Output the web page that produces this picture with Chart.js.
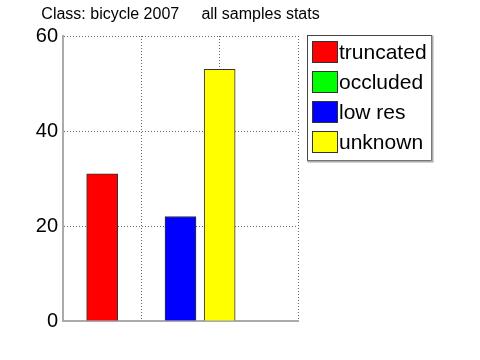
<!DOCTYPE html>
<html>
<head>
<meta charset="utf-8">
<script src="https://cdn.jsdelivr.net/npm/chart.js@4"></script>
<style>
  html, body { margin: 0; padding: 0; background: #fff; }
  #wrap { width: 480px; height: 360px; }
</style>
</head>
<body>
<div id="wrap"><canvas id="chart" width="480" height="360"></canvas></div>
<script>
// data
var categories = ['truncated', 'occluded', 'low res', 'unknown'];
var counts = [31, 0, 22, 53];
var barPositions = [0.5, 1, 1.5, 2];
var colors = ['#ff0000', '#00ff00', '#0000ff', '#ffff00'];
var xTicks = [0, 1, 2, 3];
var yTicks = [0, 20, 40, 60];
var titleText = 'Class: bicycle 2007     all samples stats';

var FONT = '"Liberation Sans", Arial, Helvetica, sans-serif';

var datasets = [];
for (var i = 0; i < categories.length; i++) {
    datasets.push({
        label: categories[i],
        data: [{x: barPositions[i], y: counts[i]}],
        backgroundColor: colors[i],
        borderColor: '#333333',
        borderWidth: 1,
        barThickness: 31,
        grouped: false
    });
}

// title + boxed legend, MATLAB style
var decorations = {
    id: 'decorations',
    afterDraw: function(chart) {
        var ctx = chart.ctx;
        var area = chart.chartArea;
        ctx.save();
        ctx.fillStyle = '#000';
        ctx.font = '16px ' + FONT;
        ctx.textAlign = 'center';
        ctx.textBaseline = 'alphabetic';
        ctx.fillText(titleText, (area.left + area.right) / 2, 19);

        // legend box
        var bx = 307.5, by = 35.5, bw = 124, bh = 125;
        ctx.fillStyle = '#fff';
        ctx.fillRect(bx, by, bw, bh);
        ctx.strokeStyle = '#444';
        ctx.lineWidth = 1;
        ctx.strokeRect(bx, by, bw, bh);
        ctx.strokeStyle = '#aaa';
        ctx.lineWidth = 2;
        ctx.beginPath();
        ctx.moveTo(bx, by + bh + 1);
        ctx.lineTo(bx + bw + 1, by + bh + 1);
        ctx.lineTo(bx + bw + 1, by);
        ctx.stroke();

        ctx.font = '21px ' + FONT;
        ctx.textAlign = 'left';
        ctx.textBaseline = 'middle';
        chart.data.datasets.forEach(function(ds, k) {
            var top = 41 + k * 30;
            ctx.fillStyle = ds.backgroundColor;
            ctx.fillRect(312, top, 25, 21);
            ctx.strokeStyle = '#333';
            ctx.lineWidth = 1;
            ctx.strokeRect(312.5, top + 0.5, 25, 21);
            ctx.fillStyle = '#000';
            ctx.fillText(ds.label, 339, top + 12);
        });
        ctx.restore();
    }
};

function gridColor(c) {
    return c.tick && c.tick.value === 0 ? 'rgba(0,0,0,0)' : '#666';
}

function fixedTicks(values) {
    return function(scale) {
        scale.ticks = values.map(function(v) { return {value: v}; });
    };
}

var chart = new Chart(document.getElementById('chart').getContext('2d'), {
    type: 'bar',
    data: { datasets: datasets },
    options: {
        responsive: false,
        animation: false,
        layout: { padding: { left: 0, top: 36, right: 182, bottom: 39 } },
        plugins: {
            legend: { display: false },
            title: { display: false },
            tooltip: { enabled: false }
        },
        scales: {
            x: {
                type: 'linear',
                min: 0,
                max: 3,
                offset: false,
                afterBuildTicks: fixedTicks(xTicks),
                ticks: { display: false },
                grid: { color: gridColor, drawTicks: false, lineWidth: 1, offset: false },
                border: { display: true, color: '#aaa', width: 2, dash: [1, 2] },
                afterFit: function(scale) { scale.height = 0; }
            },
            y: {
                min: 0,
                max: 60,
                afterBuildTicks: fixedTicks(yTicks),
                ticks: {
                    color: '#000',
                    padding: 5,
                    font: { family: FONT, size: 20 }
                },
                grid: { color: gridColor, drawTicks: false, lineWidth: 1 },
                border: { display: true, color: '#aaa', width: 2, dash: [1, 2] },
                afterFit: function(scale) { scale.width = 63; }
            }
        }
    },
    plugins: [decorations]
});
</script>
</body>
</html>
